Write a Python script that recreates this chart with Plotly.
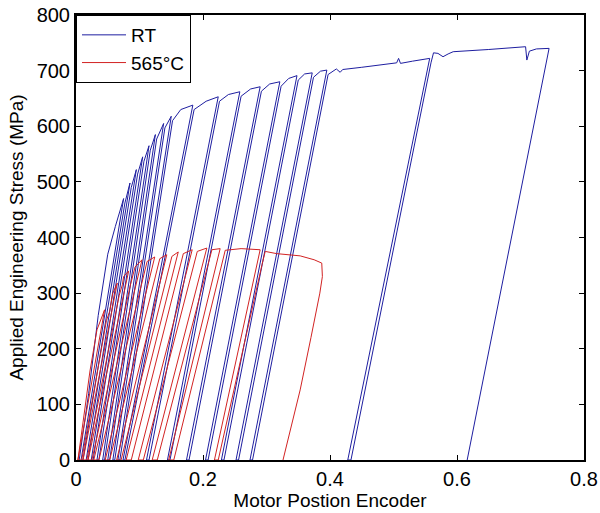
import plotly.graph_objects as go

# ---------------- RT (room temperature) data ----------------
rt_env_x = [0.005, 0.020, 0.035, 0.050, 0.062, 0.075, 0.085, 0.095, 0.105, 0.115, 0.125,
            0.138, 0.150, 0.165, 0.184, 0.205, 0.224, 0.240, 0.258, 0.275, 0.290, 0.305,
            0.321, 0.335, 0.348, 0.360, 0.372, 0.385, 0.395, 0.410, 0.416, 0.420, 0.450,
            0.480, 0.505, 0.508, 0.511, 0.530, 0.557, 0.563, 0.570, 0.578, 0.586, 0.594,
            0.650, 0.708, 0.710, 0.714, 0.725, 0.745]
rt_env_y = [0, 120, 260, 370, 420, 470, 498, 522, 545, 565, 585,
            605, 618, 630, 638, 645, 653, 657, 662, 667, 671, 676,
            680, 686, 691, 694, 696, 699, 701, 703, 697, 702, 706,
            710, 714, 722, 713, 717, 722, 732, 731, 725, 730, 734,
            738, 743, 719, 735, 739, 740]
rt_peak_x = [0.075, 0.085, 0.095, 0.105, 0.115, 0.125, 0.138, 0.150, 0.184, 0.224,
             0.258, 0.290, 0.321, 0.348, 0.372, 0.395, 0.557]
rt_unload_x0 = [0.008, 0.016, 0.024, 0.033, 0.042, 0.050, 0.058, 0.066, 0.074, 0.111,
                0.144, 0.174, 0.204, 0.229, 0.252, 0.274, 0.428]
rt_reload_x0 = [0.011, 0.019, 0.027, 0.036, 0.045, 0.053, 0.061, 0.069, 0.077, 0.115,
                0.148, 0.178, 0.208, 0.233, 0.256, 0.278, 0.433]
rt_tail_x = [0.616]
rt_tail_y = [0]

# ---------------- 565 C data ----------------
hot_env_x = [0.003, 0.012, 0.022, 0.033, 0.045, 0.058, 0.065, 0.075, 0.083, 0.093,
             0.104, 0.124, 0.143, 0.161, 0.183, 0.206, 0.227, 0.260, 0.290, 0.316,
             0.353, 0.375, 0.387]
hot_env_y = [0, 80, 160, 234, 270, 300, 318, 330, 340, 347,
             360, 365, 369, 374, 378, 381, 380, 380, 378, 371,
             367, 360, 354]
hot_peak_x = [0.045, 0.065, 0.083, 0.104, 0.124, 0.143, 0.161, 0.183, 0.206, 0.227, 0.290]
hot_unload_x0 = [0.003, 0.011, 0.019, 0.028, 0.046, 0.064, 0.079, 0.098, 0.120, 0.146, 0.218]
hot_reload_x0 = [0.009, 0.017, 0.025, 0.036, 0.053, 0.071, 0.087, 0.106, 0.128, 0.154, 0.224]
hot_tail_x = [0.388, 0.384, 0.370, 0.353, 0.326]
hot_tail_y = [330, 300, 220, 126, 0]


def build(env_x, env_y, peak_x, unload_x0, reload_x0, tail_x, tail_y, rounded):
    xs, ys = [], []
    peaks = {round(p, 4): i for i, p in enumerate(peak_x)}
    for ex, ey in zip(env_x, env_y):
        xs.append(ex)
        ys.append(ey)
        k = round(ex, 4)
        if k in peaks:
            i = peaks[k]
            xs += [unload_x0[i], reload_x0[i]]
            ys += [0, 0]
            if rounded:
                xs += [ex + 0.003, ex + 0.008]
                ys += [ey * 0.93, ey - 3]
            else:
                xs += [ex + 0.002]
                ys += [ey - 8]
    xs += tail_x
    ys += tail_y
    return xs, ys


rx, ry = build(rt_env_x, rt_env_y, rt_peak_x, rt_unload_x0, rt_reload_x0,
               rt_tail_x, rt_tail_y, False)
hx, hy = build(hot_env_x, hot_env_y, hot_peak_x, hot_unload_x0, hot_reload_x0,
               hot_tail_x, hot_tail_y, True)

FONT = "Arial, Liberation Sans, sans-serif"

fig = go.Figure()
fig.add_trace(go.Scatter(x=rx, y=ry, mode="lines", name="RT",
                         line=dict(color="rgb(30,30,160)", width=1)))
fig.add_trace(go.Scatter(x=hx, y=hy, mode="lines", name="565°C",
                         line=dict(color="rgb(210,35,35)", width=1)))

axis_common = dict(showgrid=False, zeroline=False, showline=True, linecolor="black",
                   linewidth=2, mirror="ticks", ticks="inside", ticklen=5,
                   tickcolor="black", tickwidth=1, automargin=False,
                   tickfont=dict(family=FONT, size=20, color="black"))

fig.update_layout(
    width=600, height=513,
    margin=dict(l=76, r=16, t=15, b=53),
    paper_bgcolor="white", plot_bgcolor="white",
    font=dict(family=FONT, color="black"),
    xaxis=dict(range=[0, 0.8], tickvals=[0, 0.2, 0.4, 0.6, 0.8],
               ticktext=["0", "0.2", "0.4", "0.6", "0.8"],
               title=dict(text="Motor Postion Encoder", font=dict(family=FONT, size=19),
                          standoff=2),
               **axis_common),
    yaxis=dict(range=[0, 800], tickvals=list(range(0, 801, 100)),
               title=dict(text="Applied Engineering Stress (MPa)",
                          font=dict(family=FONT, size=19), standoff=8),
               **axis_common),
    showlegend=True,
    legend=dict(x=0, y=1, xanchor="left", yanchor="top", bgcolor="white",
                bordercolor="black", borderwidth=1, itemwidth=44,
                font=dict(family=FONT, size=19), tracegroupgap=0),
)

fig.write_html("out.html", config={"displayModeBar": False},
               post_script="document.body.style.margin='0px';")
